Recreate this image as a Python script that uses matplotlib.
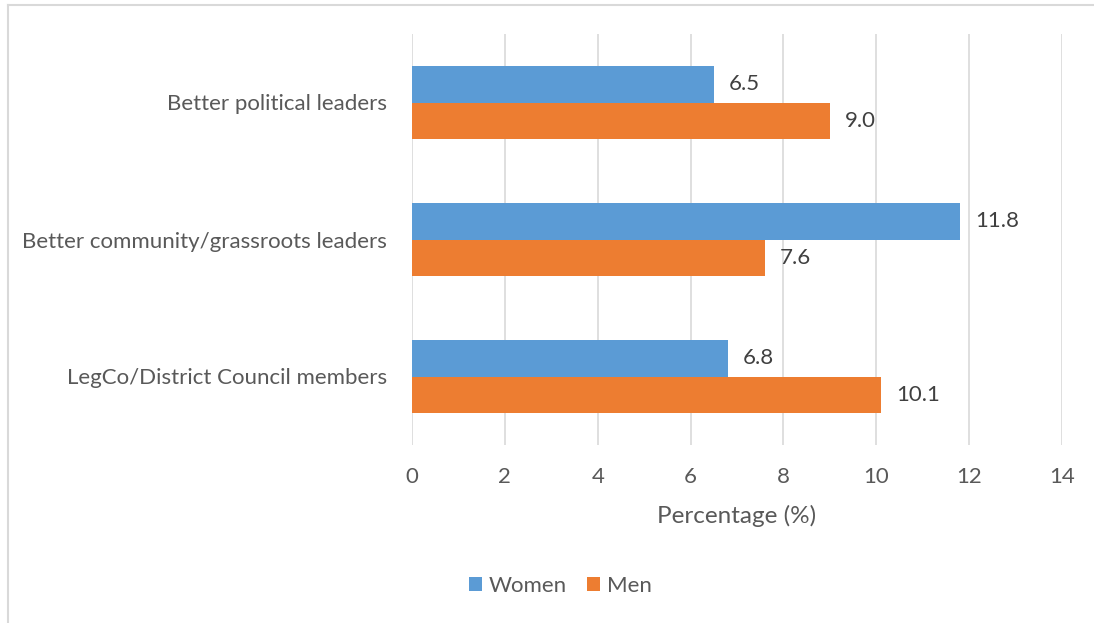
import numpy as np
import matplotlib
matplotlib.use('Agg')
import matplotlib.pyplot as plt
from matplotlib.lines import Line2D
from matplotlib.patches import Patch

plt.rcParams['font.family'] = ['Lato', 'DejaVu Sans']

# 数据：从下到上的类别
categories = ['LegCo/District Council members',
              'Better community/grassroots leaders',
              'Better political leaders']
women = [6.8, 11.8, 6.5]
men = [10.1, 7.6, 9.0]
xticks = [0, 2, 4, 6, 8, 10, 12, 14]

blue = '#5B9BD5'
orange = '#ED7D31'
grey_text = '#595959'
grid_c = '#D9D9D9'

W, H = 1094, 623
fig = plt.figure(figsize=(W / 100, H / 100), dpi=100)
ax = fig.add_axes([412 / W, 1 - 445 / H, (1062 - 412) / W, (445 - 34) / H])

y = np.arange(len(categories))
h = 0.27
b1 = ax.barh(y + h / 2, women, height=h, color=blue, label='Women', zorder=3)
b2 = ax.barh(y - h / 2, men, height=h, color=orange, label='Men', zorder=3)

# 数值标签
for bars, vals in ((b1, women), (b2, men)):
    for bar, v in zip(bars, vals):
        ax.annotate('%.1f' % v, (v, bar.get_y() + bar.get_height() / 2),
                    xytext=(11, 0), textcoords='offset points',
                    ha='left', va='center', fontsize=16, color='#404040')

ax.set_xlim(0, 14)
ax.set_ylim(-0.5, 2.5)
ax.set_xticks(xticks)
ax.set_yticks(y)
ax.set_yticklabels(categories)
ax.tick_params(axis='both', length=0, labelsize=16, colors=grey_text)
ax.tick_params(axis='y', pad=18)
ax.tick_params(axis='x', pad=16)
ax.grid(axis='x', color=grid_c, linewidth=1.2, zorder=0)
for s in ax.spines.values():
    s.set_visible(False)

ax.set_xlabel('Percentage (%)', fontsize=17.5, color=grey_text, labelpad=13)

handles = [Patch(facecolor=blue, label='Women'), Patch(facecolor=orange, label='Men')]
fig.legend(handles=handles, loc='center', bbox_to_anchor=(560 / W, 1 - 586 / H),
           ncol=2, frameon=False, fontsize=16, labelcolor=grey_text,
           handlelength=0.6, handleheight=0.6, handletextpad=0.3, columnspacing=0.9)

# 图表外框
fig.add_artist(Line2D([8 / W, 1], [1 - 4.5 / H, 1 - 4.5 / H], color=grid_c, linewidth=1.5))
fig.add_artist(Line2D([8 / W, 8 / W], [0, 1 - 4.5 / H], color=grid_c, linewidth=1.5))

fig.savefig('out.png', dpi=100)
